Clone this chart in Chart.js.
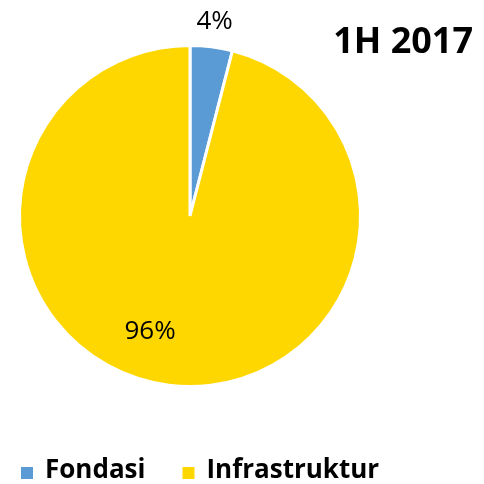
<!DOCTYPE html>
<html>
<head>
<meta charset="utf-8">
<script src="https://cdn.jsdelivr.net/npm/chart.js@4/dist/chart.umd.min.js"></script>
<style>
  html, body { margin: 0; padding: 0; background: #fff; }
  #wrap { width: 484px; height: 484px; }
</style>
</head>
<body>
<div id="wrap"><canvas id="pieChart" width="484" height="484"></canvas></div>
<script>
const categories = ['Fondasi', 'Infrastruktur'];
const shares = [4, 96];
const sliceColors = ['#5B9BD5', '#FFD700'];
const chartTitle = '1H 2017';

const fontFamily = '"Open Sans", "DejaVu Sans", sans-serif';

// value labels, title and legend drawn on top of the pie
const extrasPlugin = {
    id: 'extras',
    afterDraw(chart) {
        const ctx = chart.ctx;
        const arcs = chart.getDatasetMeta(0).data;
        ctx.save();
        ctx.fillStyle = '#000';
        ctx.textAlign = 'center';
        ctx.textBaseline = 'middle';
        ctx.font = '26px ' + fontFamily;
        arcs.forEach(function (arc, i) {
            const p = arc.getProps(['x', 'y', 'startAngle', 'endAngle', 'outerRadius']);
            let angle, r;
            if (i === 0) {
                angle = (p.startAngle + p.endAngle) / 2;
                r = p.outerRadius * 1.15;
            } else {
                // best-fit spot inside the big slice
                angle = 109 * Math.PI / 180;
                r = p.outerRadius * 0.72;
            }
            ctx.fillText(shares[i] + '%', p.x + Math.cos(angle) * r, p.y + Math.sin(angle) * r);
        });

        // title
        ctx.font = 'bold 36px ' + fontFamily;
        ctx.textAlign = 'right';
        ctx.textBaseline = 'alphabetic';
        ctx.fillText(chartTitle, 473, 53);

        // legend
        ctx.font = 'bold 26px ' + fontFamily;
        ctx.textAlign = 'left';
        ctx.textBaseline = 'middle';
        let x = 21;
        categories.forEach(function (name, i) {
            ctx.fillStyle = sliceColors[i];
            ctx.fillRect(x, 467, 12, 12);
            ctx.fillStyle = '#000';
            ctx.fillText(name, x + 24, 471);
            x += 24 + ctx.measureText(name).width + 37;
        });
        ctx.restore();
    }
};

new Chart(document.getElementById('pieChart'), {
    type: 'pie',
    data: {
        labels: categories,
        datasets: [{
            data: shares,
            backgroundColor: sliceColors,
            borderColor: '#fff',
            borderWidth: 3
        }]
    },
    options: {
        responsive: false,
        animation: false,
        layout: {
            padding: { left: 18, right: 122, top: 44, bottom: 96 }
        },
        plugins: {
            legend: { display: false },
            title: { display: false },
            tooltip: { enabled: false }
        }
    },
    plugins: [extrasPlugin]
});
</script>
</body>
</html>
